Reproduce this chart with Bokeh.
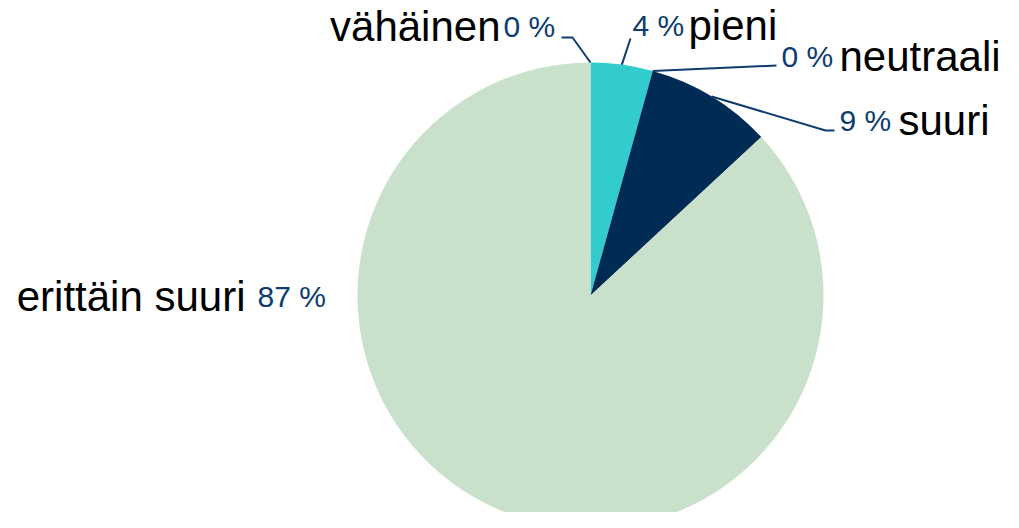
import math
from bokeh.plotting import figure
from bokeh.models import Range1d, ColumnDataSource
from bokeh.core.properties import value
from bokeh.embed import file_html
from bokeh.resources import INLINE

# ---- data ----
categories = ["vähäinen", "pieni", "neutraali", "suuri", "erittäin suuri"]
values = [0.0, 4.3, 0.0, 8.8, 86.9]
pct_labels = ["0 %", "4 %", "0 %", "9 %", "87 %"]
colors = ["#6FD3D3", "#33CCCC", "#1B4F7A", "#002B55", "#C9E1CA"]

# ---- layout (picture pixel coordinates) ----
W, H = 1003, 512
CX, CY, R = 590, 295, 233
FONT = "Liberation Sans"
CAT_SIZE = "42px"
PCT_SIZE = "30px"
PCT_COLOR = "#0D3D6E"
LINE_COLOR = "#0D3D6E"
TEXT_DY = 11  # raise texts so their baselines land where wanted

# per label: percent text anchor, category anchor, side of category, leader points after the slice edge
label_layout = {
    "vähäinen": dict(pct=(503, 37), cat=(500, 37), cat_side="left", leader=[(572, 37), (561, 37)]),
    "pieni": dict(pct=(632, 36), cat=(688, 36), cat_side="right", leader=[(630, 38)]),
    "neutraali": dict(pct=(781, 67), cat=(839, 67), cat_side="right", leader=[(776, 65)]),
    "suuri": dict(pct=(839, 131), cat=(898, 131), cat_side="right", leader=[(825, 130), (834, 130)]),
    "erittäin suuri": dict(pct=(257, 307), cat=(245, 307), cat_side="left", leader=[]),
}


def fx(sx):
    return sx


def fy(sy):
    return H - sy


p = figure(width=W, height=H, output_backend="svg", toolbar_location=None,
           x_range=Range1d(0, W), y_range=Range1d(0, H), min_border=0)
p.axis.visible = False
p.grid.visible = False
p.outline_line_color = None
p.background_fill_color = "white"

total = sum(values)
starts, ends, mids = [], [], []
cum = 0.0
for v in values:
    a0 = math.pi / 2 - 2 * math.pi * cum / total
    cum += v
    a1 = math.pi / 2 - 2 * math.pi * cum / total
    starts.append(a0)
    ends.append(a1)
    mids.append((a0 + a1) / 2)

keep = [i for i, v in enumerate(values) if v > 0]
src = ColumnDataSource(dict(start=[starts[i] for i in keep], end=[ends[i] for i in keep],
                            color=[colors[i] for i in keep], cat=[categories[i] for i in keep]))
p.wedge(x=fx(CX), y=fy(CY), radius=R, start_angle="start", end_angle="end",
        direction="clock", fill_color="color", line_color=None, source=src)

# leader lines
xs, ys = [], []
for cat, m in zip(categories, mids):
    lay = label_layout[cat]
    if not lay["leader"]:
        continue
    px = [fx(CX) + R * math.cos(m)]
    py = [fy(CY) + R * math.sin(m)]
    for (sx, sy) in lay["leader"]:
        px.append(fx(sx))
        py.append(fy(sy))
    xs.append(px)
    ys.append(py)
p.multi_line(xs=xs, ys=ys, line_color=LINE_COLOR, line_width=2)

# labels
for cat, pct in zip(categories, pct_labels):
    lay = label_layout[cat]
    p.text(x=[fx(lay["pct"][0])], y=[fy(lay["pct"][1] - TEXT_DY)], text=[pct],
           text_font=value(FONT), text_font_size=PCT_SIZE, text_color=PCT_COLOR,
           text_align="left", text_baseline="alphabetic")
    p.text(x=[fx(lay["cat"][0])], y=[fy(lay["cat"][1] - TEXT_DY)], text=[cat],
           text_font=value(FONT), text_font_size=CAT_SIZE, text_color="black",
           text_align="right" if lay["cat_side"] == "left" else "left",
           text_baseline="alphabetic")

open("out.html", "w").write(file_html(p, INLINE))
